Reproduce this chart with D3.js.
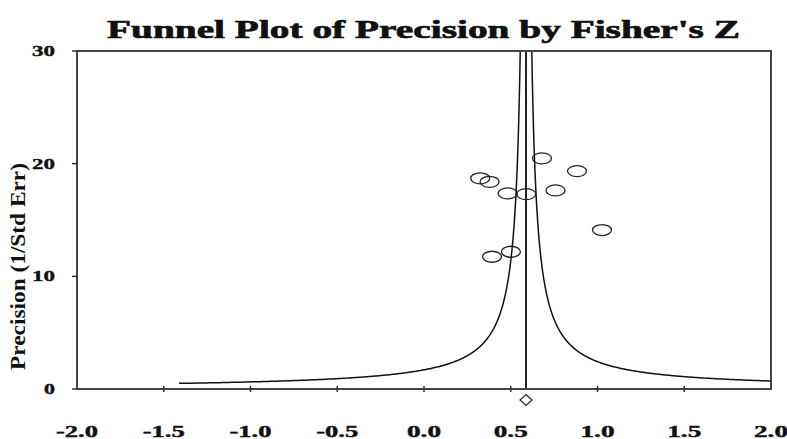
<!DOCTYPE html>
<html><head><meta charset="utf-8">
<script src="https://cdn.jsdelivr.net/npm/d3@7"></script>
<style>html,body{margin:0;padding:0;background:#fff;}svg{display:block;}</style>
</head><body>
<svg id="c" width="787" height="439"></svg>
<script>
// Data
const studyZ = [0.680, 0.882, 0.324, 0.378, 0.482, 0.589, 0.758, 1.026, 0.501, 0.392];
const studyPrecision = [20.47, 19.34, 18.70, 18.39, 17.36, 17.30, 17.63, 14.11, 12.18, 11.74];
const summaryZ = 0.588;
const funnelWidth = 1.0;
const funnelMinPrecision = 0.5;
const xTicks = [-2.0, -1.5, -1.0, -0.5, 0.0, 0.5, 1.0, 1.5, 2.0];
const yTicks = [0, 10, 20, 30];
const titleText = "Funnel Plot of Precision by Fisher's Z";
const yLabelText = "Precision (1/Std Err)";

const svg = d3.select("#c");
const serif = "'Liberation Serif','Times New Roman',serif";
const x = d3.scaleLinear().domain([-2, 2]).range([77, 771]);
const y = d3.scaleLinear().domain([0, 30]).range([389, 51]);

// title
svg.append("text").attr("x", 423.5).attr("y", 38).attr("text-anchor", "middle")
  .attr("font-family", serif).attr("font-weight", "bold").attr("font-size", 26)
  .attr("textLength", 633).attr("lengthAdjust", "spacingAndGlyphs")
  .attr("fill", "#111").attr("stroke", "#111").attr("stroke-width", 0.7).text(titleText);

// clip
svg.append("clipPath").attr("id", "pc").append("rect")
  .attr("x", x(-2)).attr("y", y(30)).attr("width", x(2) - x(-2)).attr("height", y(0) - y(30));

const g = svg.append("g").attr("clip-path", "url(#pc)");

// funnel
const precs = d3.range(0, 401).map(i => funnelMinPrecision * Math.pow(30.5 / funnelMinPrecision, i / 400));
const lineL = d3.line().x(p => x(summaryZ - funnelWidth / p)).y(p => y(p));
const lineR = d3.line().x(p => x(summaryZ + funnelWidth / p)).y(p => y(p));
g.append("path").attr("d", lineL(precs)).attr("fill", "none").attr("stroke", "#111").attr("stroke-width", 1.5);
g.append("path").attr("d", lineR(precs)).attr("fill", "none").attr("stroke", "#111").attr("stroke-width", 1.5);

// mean line
g.append("line").attr("x1", x(summaryZ)).attr("x2", x(summaryZ)).attr("y1", y(0)).attr("y2", y(30))
  .attr("stroke", "#222").attr("stroke-width", 2);

// points
g.selectAll("ellipse.pt").data(studyZ).enter().append("ellipse")
  .attr("cx", d => x(d)).attr("cy", (d, i) => y(studyPrecision[i]))
  .attr("rx", 9.5).attr("ry", 5.5)
  .attr("fill", "none").attr("stroke", "#222").attr("stroke-width", 1.3);

// frame
svg.append("rect").attr("x", x(-2)).attr("y", y(30)).attr("width", x(2) - x(-2)).attr("height", y(0) - y(30))
  .attr("fill", "none").attr("stroke", "#444").attr("stroke-width", 2);

// x ticks
const fmt = d3.format(".1f");
const lab = d => fmt(d).replace("\u2212", "-");
svg.selectAll("line.xt").data(xTicks.slice(1, -1)).enter().append("line")
  .attr("x1", d => x(d)).attr("x2", d => x(d)).attr("y1", y(0) - 3).attr("y2", y(0) + 3)
  .attr("stroke", "#333").attr("stroke-width", 1.5);
svg.selectAll("text.xl").data(xTicks).enter().append("text")
  .attr("x", d => x(d)).attr("y", 437).attr("text-anchor", "middle")
  .attr("font-family", serif).attr("font-weight", "bold").attr("font-size", 16)
  .attr("textLength", d => lab(d).length === 4 ? 42 : 34)
  .attr("lengthAdjust", "spacingAndGlyphs").attr("fill", "#111")
  .attr("stroke", "#111").attr("stroke-width", 0.4)
  .text(lab);

// y ticks
svg.selectAll("line.yt").data(yTicks).enter().append("line")
  .attr("x1", x(-2) - 5).attr("x2", x(-2)).attr("y1", d => y(d)).attr("y2", d => y(d))
  .attr("stroke", "#333").attr("stroke-width", 1.5);
svg.selectAll("text.yl").data(yTicks).enter().append("text")
  .attr("x", 55).attr("y", d => y(d) + 5).attr("text-anchor", "end")
  .attr("font-family", serif).attr("font-weight", "bold").attr("font-size", 15)
  .attr("textLength", d => String(d).length === 2 ? 23 : 11)
  .attr("lengthAdjust", "spacingAndGlyphs").attr("fill", "#111")
  .attr("stroke", "#111").attr("stroke-width", 0.4)
  .text(d => String(d));

// y label
svg.append("text").attr("transform", "translate(25,266.5) rotate(-90)")
  .attr("text-anchor", "middle").attr("font-family", serif).attr("font-weight", "bold")
  .attr("font-size", 21).attr("textLength", 207).attr("lengthAdjust", "spacingAndGlyphs")
  .attr("fill", "#111").text(yLabelText);

// summary diamond
const dx = x(summaryZ), dy = 400;
svg.append("path").attr("d", `M${dx},${dy - 5.5}L${dx + 6},${dy}L${dx},${dy + 5.5}L${dx - 6},${dy}Z`)
  .attr("fill", "none").attr("stroke", "#222").attr("stroke-width", 1.2);
</script>
</body></html>
